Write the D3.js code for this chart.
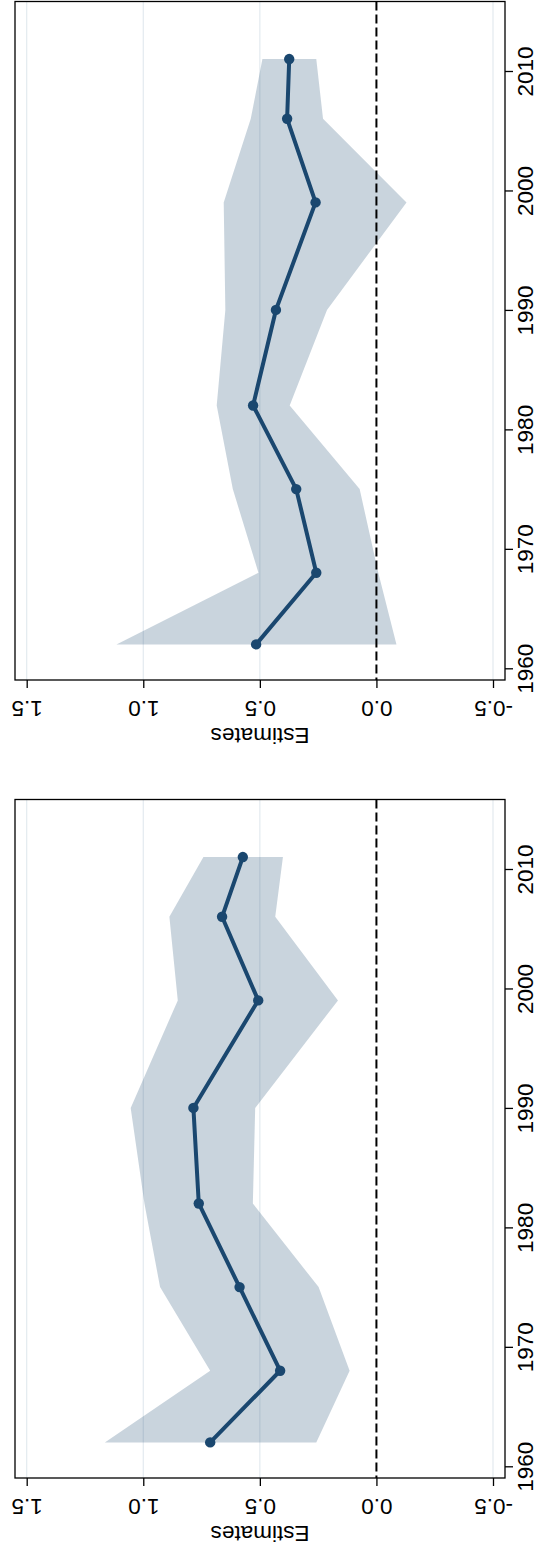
<!DOCTYPE html>
<html><head><meta charset="utf-8">
<script src="https://cdn.jsdelivr.net/npm/d3@7"></script>
<style>body{margin:0;background:#fff}svg{display:block}</style>
</head><body>
<div id="chart"></div>
<script>
const years = [1962, 1968, 1975, 1982, 1990, 1999, 2006, 2011];
// top panel
const est1 = [0.516, 0.258, 0.344, 0.529, 0.431, 0.261, 0.383, 0.374];
const hi1  = [1.115, 0.506, 0.616, 0.685, 0.648, 0.655, 0.539, 0.489];
const lo1  = [-0.086, -0.008, 0.072, 0.372, 0.212, -0.129, 0.229, 0.258];
// bottom panel
const est2 = [0.713, 0.413, 0.587, 0.762, 0.785, 0.507, 0.662, 0.573];
const hi2  = [1.165, 0.713, 0.928, 0.995, 1.054, 0.852, 0.888, 0.742];
const lo2  = [0.258, 0.115, 0.248, 0.530, 0.520, 0.165, 0.434, 0.401];
const estTicks = [-0.5, 0, 0.5, 1, 1.5];
const yearTicks = [1960, 1970, 1980, 1990, 2000, 2010];
const titleText = "Estimates";

const W = 538, H = 1554;
const svg = d3.select("#chart").append("svg").attr("width", W).attr("height", H);
svg.append("rect").attr("width", W).attr("height", H).attr("fill", "#fff");

const navy = "#1a476f";
const fontFam = "Arial, 'Liberation Sans', Helvetica, sans-serif";
const fs = 22.5;

function panel(offsetY, est, lo, hi) {
  const g = svg.append("g").attr("transform", `translate(0,${offsetY})`);
  const left = 15, right = 505, top = 1.5, bottom = 680;
  const x = d3.scaleLinear().domain([-0.5, 1.5]).range([493, 26.7]);
  const y = d3.scaleLinear().domain([1960, 2010]).range([668.3, 71]);

  // gridlines
  g.selectAll("line.grid").data(estTicks.filter(t => t !== 0)).join("line")
    .attr("class", "grid")
    .attr("x1", d => x(d)).attr("x2", d => x(d))
    .attr("y1", top).attr("y2", bottom)
    .attr("stroke", "#e3eaef").attr("stroke-width", 1.2);

  const data = years.map((yr, i) => ({yr, e: est[i], lo: lo[i], hi: hi[i]}));

  // CI band
  const area = d3.area().y(d => y(d.yr)).x0(d => x(d.lo)).x1(d => x(d.hi));
  g.append("path").datum(data).attr("d", area)
    .attr("fill", navy).attr("fill-opacity", 0.235);

  // zero reference line
  g.append("line").attr("x1", x(0)).attr("x2", x(0)).attr("y1", top).attr("y2", bottom)
    .attr("stroke", "#000").attr("stroke-width", 2).attr("stroke-dasharray", "9,4");

  // estimate line
  const line = d3.line().x(d => x(d.e)).y(d => y(d.yr));
  g.append("path").datum(data).attr("d", line)
    .attr("fill", "none").attr("stroke", navy).attr("stroke-width", 4)
    .attr("stroke-linejoin", "round");
  g.selectAll("circle.pt").data(data).join("circle")
    .attr("class", "pt")
    .attr("cx", d => x(d.e)).attr("cy", d => y(d.yr)).attr("r", 5.2)
    .attr("fill", navy);

  // frame
  g.append("rect").attr("x", left).attr("y", top)
    .attr("width", right - left).attr("height", bottom - top)
    .attr("fill", "none").attr("stroke", "#000").attr("stroke-width", 1.3);

  // year axis (right)
  const ya = g.append("g").attr("transform", `translate(${right},0)`)
    .call(d3.axisRight(y).tickValues(yearTicks).tickFormat(d => String(d)).tickSize(8));
  ya.select(".domain").remove();
  ya.selectAll(".tick line").attr("stroke", "#000").attr("stroke-width", 1.3);
  ya.selectAll(".tick text")
    .attr("x", null).attr("dy", null)
    .attr("transform", "translate(28,0) rotate(-90)")
    .attr("text-anchor", "middle")
    .attr("font-family", fontFam).attr("font-size", fs).attr("fill", "#000");

  // estimate axis (bottom)
  const xa = g.append("g").attr("transform", `translate(0,${bottom})`)
    .call(d3.axisBottom(x).tickValues(estTicks).tickFormat(d => d.toFixed(1)).tickSize(8));
  xa.select(".domain").remove();
  xa.selectAll(".tick line").attr("stroke", "#000").attr("stroke-width", 1.3);
  xa.selectAll(".tick text")
    .attr("y", null).attr("dy", null)
    .attr("transform", "translate(0,20.5) rotate(180)")
    .attr("text-anchor", "middle")
    .attr("font-family", fontFam).attr("font-size", fs).attr("fill", "#000");

  // axis title
  g.append("text")
    .attr("transform", `translate(${(left + right) / 2},728) rotate(180)`)
    .attr("text-anchor", "middle")
    .attr("font-family", fontFam).attr("font-size", fs).attr("fill", "#000")
    .text(titleText);
}

panel(0, est1, lo1, hi1);
panel(798, est2, lo2, hi2);
</script>
</body></html>
